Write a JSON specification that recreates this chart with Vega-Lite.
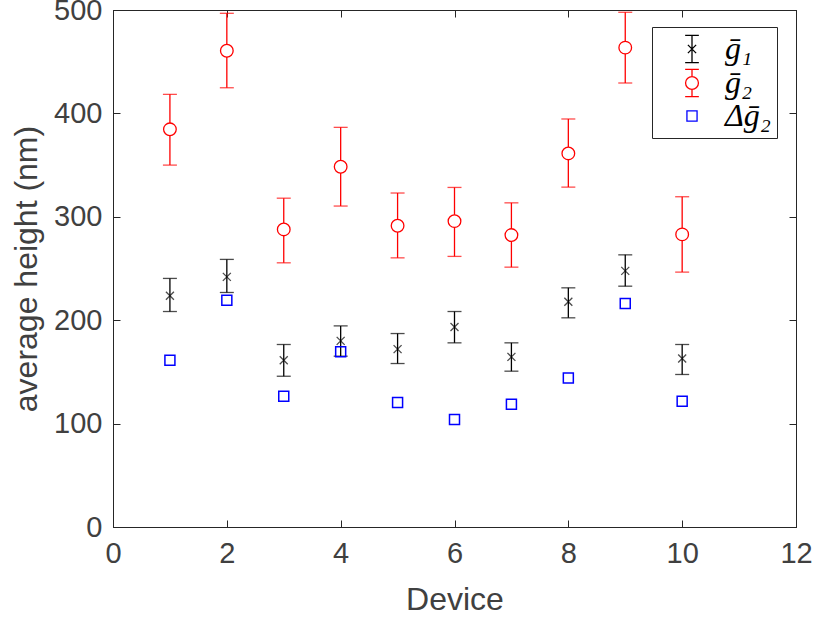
{
  "$schema": "https://vega.github.io/schema/vega-lite/v6.json",
  "width": 683,
  "height": 517,
  "autosize": {"type": "none"},
  "padding": {"left": 113, "top": 10, "right": 19, "bottom": 92},
  "background": "white",
  "view": {"stroke": "#262626", "strokeWidth": 1},
  "config": {
    "axis": {
      "grid": false,
      "domainColor": "#262626",
      "tickColor": "#262626",
      "labelColor": "#404040",
      "titleColor": "#404040",
      "labelFont": "Liberation Sans",
      "titleFont": "Liberation Sans",
      "labelFontSize": 29,
      "titleFontSize": 32,
      "titleFontWeight": "normal",
      "tickSize": -7,
      "tickWidth": 1,
      "domainWidth": 1,
      "labelFlush": false
    },
    "legend": {
      "orient": "none",
      "legendX": 539,
      "legendY": 17,
      "strokeColor": "#262626",
      "fillColor": "white",
      "padding": 6,
      "symbolSize": 750,
      "symbolOffset": 18,
      "labelOffset": 17,
      "rowPadding": 0,
      "symbolStrokeWidth": 1.3,
      "labelFont": "Liberation Serif",
      "labelFontStyle": "italic",
      "labelFontSize": 32,
      "labelColor": "black"
    }
  },
  "data": {
    "values": [
      {"device": 1, "series": "ḡ₁", "value": 223.6, "lo": 208.4, "hi": 240.4},
      {"device": 2, "series": "ḡ₁", "value": 241.9, "lo": 226.8, "hi": 258.8},
      {"device": 3, "series": "ḡ₁", "value": 161.3, "lo": 145.8, "hi": 176.5},
      {"device": 4, "series": "ḡ₁", "value": 180.0, "lo": 165.2, "hi": 194.5},
      {"device": 5, "series": "ḡ₁", "value": 172.0, "lo": 158.1, "hi": 187.1},
      {"device": 6, "series": "ḡ₁", "value": 193.5, "lo": 178.1, "hi": 208.4},
      {"device": 7, "series": "ḡ₁", "value": 164.5, "lo": 150.7, "hi": 178.1},
      {"device": 8, "series": "ḡ₁", "value": 217.8, "lo": 202.3, "hi": 231.3},
      {"device": 9, "series": "ḡ₁", "value": 247.7, "lo": 232.9, "hi": 263.2},
      {"device": 10, "series": "ḡ₁", "value": 163.0, "lo": 147.5, "hi": 176.5},
      {"device": 1, "series": "ḡ₂", "value": 384.6, "lo": 350.0, "hi": 418.4},
      {"device": 2, "series": "ḡ₂", "value": 460.6, "lo": 424.8, "hi": 496.8},
      {"device": 3, "series": "ḡ₂", "value": 287.8, "lo": 255.5, "hi": 318.0},
      {"device": 4, "series": "ḡ₂", "value": 348.4, "lo": 310.4, "hi": 386.5},
      {"device": 5, "series": "ḡ₂", "value": 291.3, "lo": 260.3, "hi": 323.0},
      {"device": 6, "series": "ḡ₂", "value": 295.8, "lo": 261.7, "hi": 328.4},
      {"device": 7, "series": "ḡ₂", "value": 282.3, "lo": 251.3, "hi": 313.5},
      {"device": 8, "series": "ḡ₂", "value": 361.3, "lo": 328.7, "hi": 394.6},
      {"device": 9, "series": "ḡ₂", "value": 463.6, "lo": 429.4, "hi": 497.8},
      {"device": 10, "series": "ḡ₂", "value": 283.0, "lo": 246.5, "hi": 319.4},
      {"device": 1, "series": "Δḡ₂", "value": 161.3},
      {"device": 2, "series": "Δḡ₂", "value": 219.4},
      {"device": 3, "series": "Δḡ₂", "value": 126.5},
      {"device": 4, "series": "Δḡ₂", "value": 169.4},
      {"device": 5, "series": "Δḡ₂", "value": 120.3},
      {"device": 6, "series": "Δḡ₂", "value": 103.9},
      {"device": 7, "series": "Δḡ₂", "value": 118.7},
      {"device": 8, "series": "Δḡ₂", "value": 144.2},
      {"device": 9, "series": "Δḡ₂", "value": 216.1},
      {"device": 10, "series": "Δḡ₂", "value": 121.6}
    ]
  },
  "resolve": {"axis": {"x": "independent", "y": "independent"}},
  "layer": [
    {
      "transform": [{"filter": "datum.series === 'ḡ₁'"}],
      "mark": {"type": "rule", "color": "black", "strokeWidth": 1.3},
      "encoding": {
        "x": {"field": "device", "type": "quantitative", "scale": {"domain": [0, 12], "nice": false},
              "axis": {"orient": "bottom", "title": "Device", "values": [0, 2, 4, 6, 8, 10, 12], "labelPadding": 19, "titlePadding": 16}},
        "y": {"field": "lo", "type": "quantitative", "scale": {"domain": [0, 500], "nice": false},
              "axis": {"orient": "left", "title": "average height (nm)", "values": [0, 100, 200, 300, 400, 500], "labelPadding": 18, "titlePadding": 10}},
        "y2": {"field": "hi"}
      }
    },
    {
      "transform": [{"filter": "datum.series !== 'Δḡ₂'"}],
      "mark": {"type": "point", "opacity": 0},
      "encoding": {
        "x": {"field": "device", "type": "quantitative",
              "axis": {"orient": "top", "title": null, "labels": false, "values": [0, 2, 4, 6, 8, 10, 12]}},
        "y": {"field": "value", "type": "quantitative",
              "axis": {"orient": "right", "title": null, "labels": false, "values": [0, 100, 200, 300, 400, 500]}}
      }
    },
    {
      "transform": [{"filter": "datum.series === 'ḡ₂'"}],
      "mark": {"type": "rule", "color": "#ff0000", "strokeWidth": 1.3},
      "encoding": {
        "x": {"field": "device", "type": "quantitative", "axis": null},
        "y": {"field": "lo", "type": "quantitative", "axis": null},
        "y2": {"field": "hi"}
      }
    },
    {
      "transform": [{"filter": "datum.series === 'ḡ₁'"}],
      "mark": {"type": "tick", "orient": "horizontal", "color": "black", "size": 14, "thickness": 1.3},
      "encoding": {
        "x": {"field": "device", "type": "quantitative", "axis": null},
        "y": {"field": "lo", "type": "quantitative", "axis": null}
      }
    },
    {
      "transform": [{"filter": "datum.series === 'ḡ₁'"}],
      "mark": {"type": "tick", "orient": "horizontal", "color": "black", "size": 14, "thickness": 1.3},
      "encoding": {
        "x": {"field": "device", "type": "quantitative", "axis": null},
        "y": {"field": "hi", "type": "quantitative", "axis": null}
      }
    },
    {
      "transform": [{"filter": "datum.series === 'ḡ₂'"}],
      "mark": {"type": "tick", "orient": "horizontal", "color": "#ff0000", "size": 14, "thickness": 1.3},
      "encoding": {
        "x": {"field": "device", "type": "quantitative", "axis": null},
        "y": {"field": "lo", "type": "quantitative", "axis": null}
      }
    },
    {
      "transform": [{"filter": "datum.series === 'ḡ₂'"}],
      "mark": {"type": "tick", "orient": "horizontal", "color": "#ff0000", "size": 14, "thickness": 1.3},
      "encoding": {
        "x": {"field": "device", "type": "quantitative", "axis": null},
        "y": {"field": "hi", "type": "quantitative", "axis": null}
      }
    },
    {
      "transform": [{"filter": "datum.series === 'ḡ₁'"}],
      "mark": {"type": "point", "shape": "M-1,-1L1,1M-1,1L1,-1", "size": 64, "filled": false, "stroke": "black", "strokeWidth": 1.3},
      "encoding": {
        "x": {"field": "device", "type": "quantitative", "axis": null},
        "y": {"field": "value", "type": "quantitative", "axis": null}
      }
    },
    {
      "transform": [{"filter": "datum.series === 'ḡ₂'"}],
      "mark": {"type": "point", "shape": "circle", "size": 160, "filled": false, "fill": "white", "fillOpacity": 1, "stroke": "#ff0000", "strokeWidth": 1.3, "opacity": 1},
      "encoding": {
        "x": {"field": "device", "type": "quantitative", "axis": null},
        "y": {"field": "value", "type": "quantitative", "axis": null}
      }
    },
    {
      "transform": [{"filter": "datum.series === 'Δḡ₂'"}],
      "mark": {"type": "point", "shape": "square", "size": 100, "filled": false, "stroke": "#0000ff", "strokeWidth": 1.5, "opacity": 1},
      "encoding": {
        "x": {"field": "device", "type": "quantitative", "axis": null},
        "y": {"field": "value", "type": "quantitative", "axis": null}
      }
    },
    {
      "transform": [{"filter": "false"}],
      "mark": {"type": "point", "filled": false},
      "encoding": {
        "x": {"field": "device", "type": "quantitative", "axis": null},
        "y": {"field": "value", "type": "quantitative", "axis": null},
        "color": {"field": "series", "type": "nominal",
                  "scale": {"domain": ["ḡ₁", "ḡ₂", "Δḡ₂"], "range": ["black", "#ff0000", "#0000ff"]},
                  "legend": {"title": null, "symbolOpacity": 1}},
        "shape": {"field": "series", "type": "nominal",
                  "scale": {"domain": ["ḡ₁", "ḡ₂", "Δḡ₂"],
                            "range": [
                              "M0,-1L0,1M-0.5,-1L0.5,-1M-0.5,1L0.5,1M-0.3,-0.3L0.3,0.3M-0.3,0.3L0.3,-0.3",
                              "M0,-1L0,-0.47M0,0.47L0,1M-0.5,-1L0.5,-1M-0.5,1L0.5,1M0.47,0A0.47,0.47,0,1,1,-0.47,0A0.47,0.47,0,1,1,0.47,0",
                              "M-0.37,-0.37L0.37,-0.37L0.37,0.37L-0.37,0.37Z"
                            ]},
                  "legend": {"title": null, "symbolOpacity": 1}}
      }
    }
  ]
}
